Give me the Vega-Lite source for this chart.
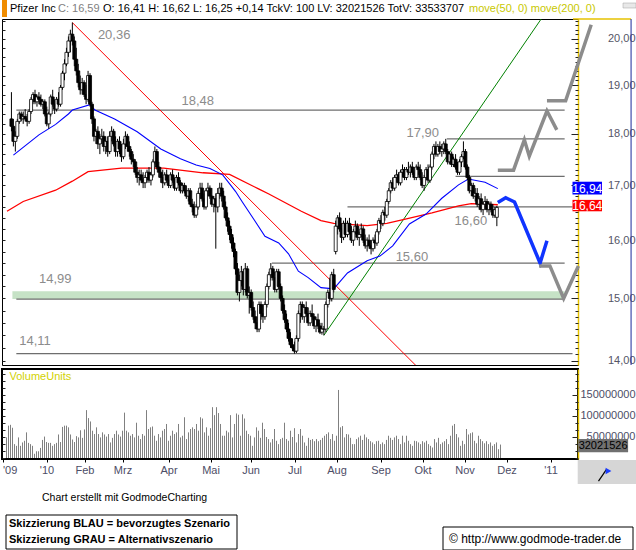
{
"$schema":"https://vega.github.io/schema/vega-lite/v6.json",
"padding":0,
"spacing":0,
"background":"white",
"config":{"font":"Liberation Sans","view":{"stroke":null}},
"datasets":{
"candles":[
{"i":-20,"o":18.3,"h":18.85,"l":18.05,"c":18.15,"v":49},
{"i":-19,"o":18.15,"h":18.3,"l":17.75,"c":17.85,"v":77},
{"i":-18,"o":17.85,"h":18.05,"l":17.65,"c":17.95,"v":79},
{"i":-17,"o":17.95,"h":18.3,"l":17.9,"c":18.25,"v":72},
{"i":-16,"o":18.25,"h":18.45,"l":18.2,"c":18.4,"v":33},
{"i":-15,"o":18.4,"h":18.45,"l":18.25,"c":18.3,"v":29},
{"i":-14,"o":18.3,"h":18.45,"l":18.2,"c":18.35,"v":49},
{"i":-13,"o":18.35,"h":18.5,"l":18.25,"c":18.3,"v":29},
{"i":-12,"o":18.3,"h":18.4,"l":18.15,"c":18.25,"v":37},
{"i":-11,"o":18.25,"h":18.5,"l":18.2,"c":18.45,"v":41},
{"i":-10,"o":18.45,"h":18.75,"l":18.4,"c":18.7,"v":61},
{"i":-9,"o":18.7,"h":18.85,"l":18.6,"c":18.8,"v":36},
{"i":-8,"o":18.8,"h":18.9,"l":18.6,"c":18.65,"v":33},
{"i":-7,"o":18.65,"h":18.8,"l":18.55,"c":18.75,"v":29},
{"i":-6,"o":18.75,"h":18.85,"l":18.6,"c":18.7,"v":10},
{"i":-5,"o":18.7,"h":18.8,"l":18.55,"c":18.6,"v":16},
{"i":-4,"o":18.6,"h":18.7,"l":18.5,"c":18.65,"v":16},
{"i":-3,"o":18.65,"h":18.7,"l":18.35,"c":18.4,"v":24},
{"i":-2,"o":18.4,"h":18.55,"l":18.15,"c":18.2,"v":43},
{"i":-1,"o":18.2,"h":18.45,"l":18.1,"c":18.4,"v":51},
{"i":0,"o":18.4,"h":18.8,"l":18.35,"c":18.75,"v":38},
{"i":1,"o":18.75,"h":18.9,"l":18.55,"c":18.6,"v":36},
{"i":2,"o":18.6,"h":18.7,"l":18.4,"c":18.5,"v":36},
{"i":3,"o":18.5,"h":18.75,"l":18.45,"c":18.7,"v":29},
{"i":4,"o":18.7,"h":18.85,"l":18.55,"c":18.6,"v":33},
{"i":5,"o":18.6,"h":19.0,"l":18.55,"c":18.95,"v":36},
{"i":6,"o":18.95,"h":19.3,"l":18.9,"c":19.25,"v":56},
{"i":7,"o":19.25,"h":19.55,"l":19.1,"c":19.45,"v":38},
{"i":8,"o":19.45,"h":19.8,"l":19.4,"c":19.7,"v":74},
{"i":9,"o":19.7,"h":20.05,"l":19.6,"c":19.95,"v":77},
{"i":10,"o":19.95,"h":20.2,"l":19.7,"c":20.1,"v":77},
{"i":11,"o":20.1,"h":20.36,"l":19.85,"c":19.95,"v":73},
{"i":12,"o":19.95,"h":20.05,"l":19.4,"c":19.55,"v":56},
{"i":13,"o":19.55,"h":19.8,"l":19.2,"c":19.3,"v":44},
{"i":14,"o":19.3,"h":19.45,"l":18.95,"c":19.05,"v":38},
{"i":15,"o":19.05,"h":19.2,"l":18.8,"c":18.9,"v":52},
{"i":16,"o":18.9,"h":19.15,"l":18.8,"c":19.05,"v":49},
{"i":17,"o":19.05,"h":19.1,"l":18.75,"c":18.8,"v":66},
{"i":18,"o":18.8,"h":19.0,"l":18.6,"c":18.7,"v":48},
{"i":19,"o":18.7,"h":19.3,"l":18.65,"c":19.2,"v":68},
{"i":20,"o":19.2,"h":19.25,"l":18.55,"c":18.6,"v":114},
{"i":21,"o":18.6,"h":18.65,"l":18.2,"c":18.3,"v":95},
{"i":22,"o":18.3,"h":18.35,"l":17.85,"c":17.95,"v":87},
{"i":23,"o":17.95,"h":18.1,"l":17.8,"c":18.05,"v":65},
{"i":24,"o":18.05,"h":18.15,"l":17.7,"c":17.8,"v":57},
{"i":25,"o":17.8,"h":18.0,"l":17.6,"c":17.9,"v":73},
{"i":26,"o":17.9,"h":18.1,"l":17.8,"c":17.95,"v":57},
{"i":27,"o":17.95,"h":18.05,"l":17.65,"c":17.75,"v":49},
{"i":28,"o":17.75,"h":17.95,"l":17.6,"c":17.85,"v":61},
{"i":29,"o":17.85,"h":17.95,"l":17.55,"c":17.65,"v":56},
{"i":30,"o":17.65,"h":18.05,"l":17.6,"c":17.95,"v":51},
{"i":31,"o":17.95,"h":18.15,"l":17.85,"c":18.05,"v":57},
{"i":32,"o":18.05,"h":18.1,"l":17.75,"c":17.8,"v":37},
{"i":33,"o":17.8,"h":17.95,"l":17.55,"c":17.65,"v":48},
{"i":34,"o":17.65,"h":17.9,"l":17.55,"c":17.85,"v":57},
{"i":35,"o":17.85,"h":17.95,"l":17.6,"c":17.7,"v":65},
{"i":36,"o":17.7,"h":17.8,"l":17.45,"c":17.55,"v":56},
{"i":37,"o":17.55,"h":17.9,"l":17.5,"c":17.8,"v":51},
{"i":38,"o":17.8,"h":18.05,"l":17.7,"c":17.95,"v":65},
{"i":39,"o":17.95,"h":18.0,"l":17.65,"c":17.75,"v":108},
{"i":40,"o":17.75,"h":17.85,"l":17.55,"c":17.65,"v":65},
{"i":41,"o":17.65,"h":17.7,"l":17.4,"c":17.5,"v":61},
{"i":42,"o":17.5,"h":17.6,"l":17.35,"c":17.45,"v":53},
{"i":43,"o":17.45,"h":17.5,"l":17.2,"c":17.25,"v":57},
{"i":44,"o":17.25,"h":17.35,"l":17.05,"c":17.15,"v":49},
{"i":45,"o":17.15,"h":17.3,"l":17.0,"c":17.2,"v":84},
{"i":46,"o":17.2,"h":17.3,"l":17.05,"c":17.1,"v":53},
{"i":47,"o":17.1,"h":17.25,"l":16.95,"c":17.05,"v":45},
{"i":48,"o":17.05,"h":17.2,"l":16.95,"c":17.15,"v":57},
{"i":49,"o":17.15,"h":17.3,"l":17.05,"c":17.25,"v":53},
{"i":50,"o":17.25,"h":17.35,"l":17.05,"c":17.1,"v":114},
{"i":51,"o":17.1,"h":17.25,"l":17.0,"c":17.2,"v":69},
{"i":52,"o":17.2,"h":17.5,"l":17.15,"c":17.45,"v":73},
{"i":53,"o":17.45,"h":17.75,"l":17.4,"c":17.65,"v":75},
{"i":54,"o":17.65,"h":17.7,"l":17.3,"c":17.35,"v":53},
{"i":55,"o":17.35,"h":17.45,"l":17.15,"c":17.25,"v":41},
{"i":56,"o":17.25,"h":17.35,"l":17.05,"c":17.15,"v":57},
{"i":57,"o":17.15,"h":17.3,"l":16.95,"c":17.05,"v":49},
{"i":58,"o":17.05,"h":17.25,"l":17.0,"c":17.2,"v":65},
{"i":59,"o":17.2,"h":17.3,"l":17.05,"c":17.1,"v":69},
{"i":60,"o":17.1,"h":17.2,"l":16.95,"c":17.0,"v":81},
{"i":61,"o":17.0,"h":17.25,"l":16.95,"c":17.2,"v":41},
{"i":62,"o":17.2,"h":17.3,"l":17.05,"c":17.1,"v":53},
{"i":63,"o":17.1,"h":17.15,"l":16.9,"c":16.95,"v":65},
{"i":64,"o":16.95,"h":17.2,"l":16.9,"c":17.15,"v":57},
{"i":65,"o":17.15,"h":17.25,"l":17.0,"c":17.05,"v":61},
{"i":66,"o":17.05,"h":17.1,"l":16.85,"c":16.9,"v":81},
{"i":67,"o":16.9,"h":17.05,"l":16.85,"c":17.0,"v":49},
{"i":68,"o":17.0,"h":17.05,"l":16.85,"c":16.9,"v":53},
{"i":69,"o":16.9,"h":17.0,"l":16.75,"c":16.8,"v":97},
{"i":70,"o":16.8,"h":16.95,"l":16.7,"c":16.9,"v":45},
{"i":71,"o":16.9,"h":16.95,"l":16.6,"c":16.65,"v":61},
{"i":72,"o":16.65,"h":16.75,"l":16.5,"c":16.6,"v":69},
{"i":73,"o":16.6,"h":16.7,"l":16.4,"c":16.45,"v":73},
{"i":74,"o":16.45,"h":16.65,"l":16.4,"c":16.6,"v":69},
{"i":75,"o":16.6,"h":16.9,"l":16.55,"c":16.85,"v":81},
{"i":76,"o":16.85,"h":17.05,"l":16.75,"c":16.95,"v":65},
{"i":77,"o":16.95,"h":17.05,"l":16.7,"c":16.75,"v":97},
{"i":78,"o":16.75,"h":16.85,"l":16.55,"c":16.6,"v":94},
{"i":79,"o":16.6,"h":16.95,"l":16.55,"c":16.9,"v":61},
{"i":80,"o":16.9,"h":17.05,"l":16.8,"c":16.95,"v":73},
{"i":81,"o":16.95,"h":17.0,"l":16.75,"c":16.8,"v":53},
{"i":82,"o":16.8,"h":16.95,"l":16.6,"c":16.65,"v":71},
{"i":83,"o":16.65,"h":16.8,"l":16.5,"c":16.75,"v":121},
{"i":84,"o":16.75,"h":16.85,"l":15.85,"c":16.6,"v":102},
{"i":85,"o":16.6,"h":16.95,"l":16.5,"c":16.85,"v":121},
{"i":86,"o":16.85,"h":17.05,"l":16.75,"c":16.95,"v":107},
{"i":87,"o":16.95,"h":17.05,"l":16.7,"c":16.8,"v":81},
{"i":88,"o":16.8,"h":16.9,"l":16.55,"c":16.6,"v":53},
{"i":89,"o":16.6,"h":16.7,"l":16.35,"c":16.4,"v":53},
{"i":90,"o":16.4,"h":16.5,"l":16.15,"c":16.25,"v":65},
{"i":91,"o":16.25,"h":16.35,"l":16.0,"c":16.1,"v":61},
{"i":92,"o":16.1,"h":16.2,"l":15.85,"c":15.95,"v":102},
{"i":93,"o":15.95,"h":16.05,"l":15.7,"c":15.8,"v":49},
{"i":94,"o":15.8,"h":15.85,"l":15.4,"c":15.5,"v":81},
{"i":95,"o":15.5,"h":15.6,"l":15.05,"c":15.1,"v":106},
{"i":96,"o":15.1,"h":15.4,"l":14.95,"c":15.3,"v":103},
{"i":97,"o":15.3,"h":15.55,"l":15.2,"c":15.45,"v":53},
{"i":98,"o":15.45,"h":15.5,"l":15.05,"c":15.15,"v":104},
{"i":99,"o":15.15,"h":15.6,"l":15.1,"c":15.5,"v":94},
{"i":100,"o":15.5,"h":15.55,"l":15.0,"c":15.05,"v":65},
{"i":101,"o":15.05,"h":15.2,"l":14.75,"c":15.1,"v":57},
{"i":102,"o":15.1,"h":15.15,"l":14.8,"c":14.85,"v":53},
{"i":103,"o":14.85,"h":14.95,"l":14.65,"c":14.7,"v":29},
{"i":104,"o":14.7,"h":14.8,"l":14.5,"c":14.6,"v":49},
{"i":105,"o":14.6,"h":14.7,"l":14.45,"c":14.5,"v":73},
{"i":106,"o":14.5,"h":14.95,"l":14.45,"c":14.9,"v":65},
{"i":107,"o":14.9,"h":14.95,"l":14.65,"c":14.75,"v":48},
{"i":108,"o":14.75,"h":14.9,"l":14.6,"c":14.7,"v":84},
{"i":109,"o":14.7,"h":14.95,"l":14.65,"c":14.9,"v":69},
{"i":110,"o":14.9,"h":15.25,"l":14.85,"c":15.2,"v":50},
{"i":111,"o":15.2,"h":15.45,"l":15.15,"c":15.4,"v":45},
{"i":112,"o":15.4,"h":15.6,"l":15.3,"c":15.5,"v":37},
{"i":113,"o":15.5,"h":15.55,"l":15.3,"c":15.35,"v":45},
{"i":114,"o":15.35,"h":15.45,"l":15.1,"c":15.15,"v":69},
{"i":115,"o":15.15,"h":15.5,"l":15.1,"c":15.45,"v":41},
{"i":116,"o":15.45,"h":15.5,"l":15.15,"c":15.2,"v":33},
{"i":117,"o":15.2,"h":15.25,"l":14.95,"c":15.0,"v":45},
{"i":118,"o":15.0,"h":15.05,"l":14.75,"c":14.8,"v":48},
{"i":119,"o":14.8,"h":14.9,"l":14.6,"c":14.65,"v":84},
{"i":120,"o":14.65,"h":14.75,"l":14.45,"c":14.5,"v":45},
{"i":121,"o":14.5,"h":14.6,"l":14.3,"c":14.35,"v":41},
{"i":122,"o":14.35,"h":14.45,"l":14.2,"c":14.25,"v":65},
{"i":123,"o":14.25,"h":14.35,"l":14.15,"c":14.2,"v":50},
{"i":124,"o":14.2,"h":14.3,"l":14.11,"c":14.15,"v":71},
{"i":125,"o":14.15,"h":14.4,"l":14.12,"c":14.35,"v":37},
{"i":126,"o":14.35,"h":14.8,"l":14.3,"c":14.75,"v":57},
{"i":127,"o":14.75,"h":14.95,"l":14.6,"c":14.9,"v":69},
{"i":128,"o":14.9,"h":14.95,"l":14.65,"c":14.7,"v":53},
{"i":129,"o":14.7,"h":14.9,"l":14.6,"c":14.85,"v":37},
{"i":130,"o":14.85,"h":14.95,"l":14.7,"c":14.75,"v":29},
{"i":131,"o":14.75,"h":14.85,"l":14.55,"c":14.6,"v":48},
{"i":132,"o":14.6,"h":14.8,"l":14.55,"c":14.75,"v":43},
{"i":133,"o":14.75,"h":14.9,"l":14.65,"c":14.7,"v":45},
{"i":134,"o":14.7,"h":14.75,"l":14.5,"c":14.55,"v":40},
{"i":135,"o":14.55,"h":14.7,"l":14.45,"c":14.65,"v":45},
{"i":136,"o":14.65,"h":14.75,"l":14.5,"c":14.55,"v":40},
{"i":137,"o":14.55,"h":14.6,"l":14.42,"c":14.45,"v":43},
{"i":138,"o":14.45,"h":14.6,"l":14.41,"c":14.5,"v":48},
{"i":139,"o":14.5,"h":14.55,"l":14.4,"c":14.5,"v":53},
{"i":140,"o":14.5,"h":14.95,"l":14.45,"c":14.9,"v":57},
{"i":141,"o":14.9,"h":15.15,"l":14.85,"c":15.1,"v":61},
{"i":142,"o":15.1,"h":15.35,"l":14.95,"c":15.0,"v":45},
{"i":143,"o":15.0,"h":15.45,"l":14.95,"c":15.4,"v":57},
{"i":144,"o":15.4,"h":15.5,"l":15.1,"c":15.15,"v":41},
{"i":145,"o":15.8,"h":16.35,"l":15.75,"c":16.25,"v":53},
{"i":146,"o":16.25,"h":16.45,"l":16.1,"c":16.4,"v":162},
{"i":147,"o":16.4,"h":16.5,"l":16.15,"c":16.2,"v":73},
{"i":148,"o":16.2,"h":16.3,"l":15.95,"c":16.05,"v":76},
{"i":149,"o":16.05,"h":16.35,"l":16.0,"c":16.3,"v":49},
{"i":150,"o":16.3,"h":16.4,"l":16.05,"c":16.1,"v":57},
{"i":151,"o":16.1,"h":16.35,"l":16.05,"c":16.3,"v":56},
{"i":152,"o":16.3,"h":16.4,"l":16.1,"c":16.15,"v":48},
{"i":153,"o":16.15,"h":16.25,"l":15.95,"c":16.0,"v":33},
{"i":154,"o":16.0,"h":16.2,"l":15.9,"c":16.15,"v":33},
{"i":155,"o":16.15,"h":16.35,"l":16.1,"c":16.25,"v":45},
{"i":156,"o":16.25,"h":16.3,"l":16.0,"c":16.05,"v":49},
{"i":157,"o":16.05,"h":16.15,"l":15.9,"c":16.1,"v":53},
{"i":158,"o":16.1,"h":16.3,"l":16.05,"c":16.2,"v":43},
{"i":159,"o":16.2,"h":16.25,"l":15.95,"c":16.0,"v":56},
{"i":160,"o":16.0,"h":16.1,"l":15.85,"c":15.9,"v":49},
{"i":161,"o":15.9,"h":16.05,"l":15.8,"c":16.0,"v":45},
{"i":162,"o":16.0,"h":16.1,"l":15.85,"c":15.9,"v":40},
{"i":163,"o":15.9,"h":16.0,"l":15.75,"c":15.85,"v":37},
{"i":164,"o":15.85,"h":16.05,"l":15.8,"c":16.0,"v":33},
{"i":165,"o":16.0,"h":16.1,"l":15.85,"c":15.95,"v":40},
{"i":166,"o":15.95,"h":16.2,"l":15.9,"c":16.15,"v":41},
{"i":167,"o":16.15,"h":16.4,"l":16.1,"c":16.35,"v":33},
{"i":168,"o":16.35,"h":16.45,"l":16.2,"c":16.3,"v":37},
{"i":169,"o":16.3,"h":16.55,"l":16.25,"c":16.5,"v":33},
{"i":170,"o":16.5,"h":16.6,"l":16.35,"c":16.45,"v":43},
{"i":171,"o":16.45,"h":16.75,"l":16.4,"c":16.7,"v":53},
{"i":172,"o":16.7,"h":16.95,"l":16.65,"c":16.9,"v":48},
{"i":173,"o":16.9,"h":17.1,"l":16.85,"c":17.05,"v":43},
{"i":174,"o":17.05,"h":17.15,"l":16.9,"c":16.95,"v":49},
{"i":175,"o":16.95,"h":17.2,"l":16.9,"c":17.15,"v":53},
{"i":176,"o":17.15,"h":17.3,"l":17.05,"c":17.2,"v":45},
{"i":177,"o":17.2,"h":17.25,"l":17.0,"c":17.05,"v":33},
{"i":178,"o":17.05,"h":17.3,"l":17.0,"c":17.25,"v":53},
{"i":179,"o":17.25,"h":17.4,"l":17.15,"c":17.3,"v":37},
{"i":180,"o":17.3,"h":17.35,"l":17.1,"c":17.15,"v":53},
{"i":181,"o":17.15,"h":17.35,"l":17.1,"c":17.3,"v":41},
{"i":182,"o":17.3,"h":17.45,"l":17.2,"c":17.25,"v":33},
{"i":183,"o":17.25,"h":17.4,"l":17.15,"c":17.35,"v":29},
{"i":184,"o":17.35,"h":17.45,"l":17.2,"c":17.25,"v":41},
{"i":185,"o":17.25,"h":17.35,"l":17.1,"c":17.15,"v":40},
{"i":186,"o":17.15,"h":17.4,"l":17.1,"c":17.35,"v":37},
{"i":187,"o":17.35,"h":17.45,"l":17.2,"c":17.3,"v":33},
{"i":188,"o":17.3,"h":17.4,"l":17.1,"c":17.15,"v":40},
{"i":189,"o":17.15,"h":17.25,"l":16.95,"c":17.0,"v":37},
{"i":190,"o":17.0,"h":17.2,"l":16.9,"c":17.15,"v":41},
{"i":191,"o":17.15,"h":17.35,"l":17.1,"c":17.3,"v":33},
{"i":192,"o":17.3,"h":17.4,"l":17.05,"c":17.1,"v":29},
{"i":193,"o":17.1,"h":17.4,"l":17.05,"c":17.35,"v":25},
{"i":194,"o":17.35,"h":17.65,"l":17.3,"c":17.6,"v":45},
{"i":195,"o":17.6,"h":17.8,"l":17.5,"c":17.75,"v":37},
{"i":196,"o":17.75,"h":17.85,"l":17.55,"c":17.6,"v":48},
{"i":197,"o":17.6,"h":17.8,"l":17.55,"c":17.75,"v":33},
{"i":198,"o":17.75,"h":17.85,"l":17.6,"c":17.65,"v":37},
{"i":199,"o":17.65,"h":17.8,"l":17.55,"c":17.7,"v":40},
{"i":200,"o":17.7,"h":17.85,"l":17.6,"c":17.8,"v":45},
{"i":201,"o":17.8,"h":17.9,"l":17.6,"c":17.65,"v":33},
{"i":202,"o":17.65,"h":17.7,"l":17.4,"c":17.45,"v":53},
{"i":203,"o":17.45,"h":17.65,"l":17.4,"c":17.6,"v":77},
{"i":204,"o":17.6,"h":17.65,"l":17.35,"c":17.4,"v":81},
{"i":205,"o":17.4,"h":17.55,"l":17.35,"c":17.5,"v":57},
{"i":206,"o":17.5,"h":17.6,"l":17.3,"c":17.35,"v":49},
{"i":207,"o":17.35,"h":17.45,"l":17.2,"c":17.25,"v":29},
{"i":208,"o":17.25,"h":17.5,"l":17.2,"c":17.45,"v":41},
{"i":209,"o":17.45,"h":17.6,"l":17.35,"c":17.55,"v":33},
{"i":210,"o":17.55,"h":17.85,"l":17.5,"c":17.65,"v":69},
{"i":211,"o":17.65,"h":17.7,"l":17.3,"c":17.35,"v":56},
{"i":212,"o":17.35,"h":17.4,"l":17.1,"c":17.15,"v":59},
{"i":213,"o":17.15,"h":17.2,"l":16.85,"c":16.9,"v":61},
{"i":214,"o":16.9,"h":17.05,"l":16.8,"c":17.0,"v":41},
{"i":215,"o":17.0,"h":17.05,"l":16.75,"c":16.8,"v":35},
{"i":216,"o":16.8,"h":16.95,"l":16.7,"c":16.85,"v":53},
{"i":217,"o":16.85,"h":16.95,"l":16.6,"c":16.65,"v":45},
{"i":218,"o":16.65,"h":16.8,"l":16.55,"c":16.75,"v":40},
{"i":219,"o":16.75,"h":16.85,"l":16.5,"c":16.55,"v":35},
{"i":220,"o":16.55,"h":16.7,"l":16.45,"c":16.65,"v":40},
{"i":221,"o":16.65,"h":16.8,"l":16.55,"c":16.7,"v":33},
{"i":222,"o":16.7,"h":16.75,"l":16.5,"c":16.55,"v":37},
{"i":223,"o":16.55,"h":16.7,"l":16.45,"c":16.65,"v":29},
{"i":224,"o":16.65,"h":16.7,"l":16.5,"c":16.55,"v":33},
{"i":225,"o":16.55,"h":16.65,"l":16.4,"c":16.45,"v":37},
{"i":226,"o":16.45,"h":16.6,"l":16.4,"c":16.55,"v":21},
{"i":227,"o":16.41,"h":16.62,"l":16.25,"c":16.59,"v":32}
],
"ma":[
{"k":"50","i":-19,"m":17.58},{"k":"50","i":-6,"m":17.98},{"k":"50","i":2.5,"m":18.19},{"k":"50","i":9,"m":18.4},{"k":"50","i":11,"m":18.48},{"k":"50","i":20,"m":18.59},{"k":"50","i":22.5,"m":18.48},{"k":"50","i":32.5,"m":18.3},{"k":"50","i":44,"m":18.04},{"k":"50","i":56,"m":17.7},{"k":"50","i":66,"m":17.51},{"k":"50","i":74,"m":17.39},{"k":"50","i":81,"m":17.32},{"k":"50","i":87.5,"m":17.2},{"k":"50","i":94,"m":16.89},{"k":"50","i":97.5,"m":16.69},{"k":"50","i":104,"m":16.34},{"k":"50","i":109,"m":16.07},{"k":"50","i":116,"m":15.95},{"k":"50","i":121,"m":15.76},{"k":"50","i":126,"m":15.46},{"k":"50","i":131,"m":15.35},{"k":"50","i":137.5,"m":15.18},{"k":"50","i":144,"m":15.16},{"k":"50","i":151,"m":15.43},{"k":"50","i":161,"m":15.64},{"k":"50","i":167.5,"m":15.72},{"k":"50","i":174,"m":15.9},{"k":"50","i":182.5,"m":16.29},{"k":"50","i":191,"m":16.47},{"k":"50","i":199,"m":16.76},{"k":"50","i":207.5,"m":17.01},{"k":"50","i":212.5,"m":17.12},{"k":"50","i":221,"m":17.06},{"k":"50","i":227.5,"m":16.94},
{"k":"200","i":-22.25,"m":16.52},{"k":"200","i":-14,"m":16.7},{"k":"200","i":2.5,"m":16.91},{"k":"200","i":11,"m":17.08},{"k":"200","i":19,"m":17.26},{"k":"200","i":36,"m":17.33},{"k":"200","i":57.5,"m":17.33},{"k":"200","i":77.5,"m":17.24},{"k":"200","i":91,"m":17.21},{"k":"200","i":106,"m":16.93},{"k":"200","i":111,"m":16.84},{"k":"200","i":127.5,"m":16.52},{"k":"200","i":137.5,"m":16.35},{"k":"200","i":144,"m":16.3},{"k":"200","i":161,"m":16.26},{"k":"200","i":171,"m":16.3},{"k":"200","i":181,"m":16.38},{"k":"200","i":194,"m":16.49},{"k":"200","i":207.5,"m":16.62},{"k":"200","i":214,"m":16.66},{"k":"200","i":227.5,"m":16.64}
]
},
"vconcat":[
{
"width":636,"height":17,
"data":{"values":[{}]},
"encoding":{
"x":{"datum":0,"type":"quantitative","scale":{"domain":[0,636],"nice":false,"zero":false},"axis":null},
"y":{"datum":9,"type":"quantitative","scale":{"domain":[0,17],"nice":false,"zero":false,"reverse":true},"axis":null}
},
"layer":[
{"mark":{"type":"rect","color":"#f08c00"},"encoding":{"x":{"datum":0,"type":"quantitative"},"x2":{"datum":5},"y":{"datum":0,"type":"quantitative"},"y2":{"datum":17}}},
{"mark":{"type":"rect","fill":"#e8e8e8","stroke":"#a0a0a0","strokeWidth":0.5},"encoding":{"x":{"datum":621,"type":"quantitative"},"x2":{"datum":634},"y":{"datum":3,"type":"quantitative"},"y2":{"datum":8}}},
{"mark":{"type":"text","text":"Pfizer Inc","align":"left","baseline":"middle","fontSize":11,"color":"#000"},"encoding":{"x":{"datum":8,"type":"quantitative"}}},
{"mark":{"type":"text","text":"C: 16,59","align":"left","baseline":"middle","fontSize":11,"color":"#808080"},"encoding":{"x":{"datum":56,"type":"quantitative"}}},
{"mark":{"type":"text","text":"O: 16,41 H: 16,62 L: 16,25 +0,14 TckV: 100 LV: 32021526 TotV: 33533707","align":"left","baseline":"middle","fontSize":11,"color":"#000"},"encoding":{"x":{"datum":101,"type":"quantitative"}}},
{"mark":{"type":"text","text":"move(50, 0) move(200, 0)","align":"left","baseline":"middle","fontSize":11,"color":"#c8c800"},"encoding":{"x":{"datum":467,"type":"quantitative"}}}
]
},
{
"width":576,"height":346,
"view":{"stroke":"#000","strokeWidth":1},
"resolve":{"axis":{"y":"independent"}},
"layer":[
{"data":{"values":[{"lo":14.99,"hi":15.12,"a":-19.5,"b":261.5}]},
"mark":{"type":"rect","color":"#c6e2c6"},
"encoding":{
"x":{"field":"a","type":"quantitative","scale":{"domain":[-22.25,265.75],"nice":false,"zero":false},"axis":null},
"x2":{"field":"b"},
"y":{"field":"lo","type":"quantitative","scale":{"type":"log","domain":[13.934,20.441],"nice":false},
"axis":{"orient":"right","values":[14,15,16,17,18,19,20],"labelExpr":"replace(format(datum.value,'.2f'),'.',',')","title":null,"grid":false,"domainColor":"#e6c200","domainWidth":1.5,"tickColor":"#222","tickSize":-7,"labelPadding":64,"labelAlign":"right","labelFontSize":11,"labelColor":"#555566"}},
"y2":{"field":"hi"}}},
{"data":{"values":[{"p":18.48,"a":-17.5,"b":261.5},{"p":17.9,"a":201.5,"b":261.5},{"p":17.17,"a":206,"b":261.5},{"p":16.6,"a":151,"b":265.5},{"p":15.6,"a":112.5,"b":261.5},{"p":14.99,"a":-17.5,"b":261.5},{"p":14.11,"a":-17.5,"b":265.5}]},
"mark":{"type":"rule","color":"#6e6e6e","strokeWidth":1.2},
"encoding":{"x":{"field":"a","type":"quantitative","axis":null},"x2":{"field":"b"},"y":{"field":"p","type":"quantitative",
"axis":{"orient":"right","values":[14,14.1,14.2,14.3,14.4,14.5,14.6,14.7,14.8,14.9,15,15.1,15.2,15.3,15.4,15.5,15.6,15.7,15.8,15.9,16,16.1,16.2,16.3,16.4,16.5,16.6,16.7,16.8,16.9,17,17.1,17.2,17.3,17.4,17.5,17.6,17.7,17.8,17.9,18,18.1,18.2,18.3,18.4,18.5,18.6,18.7,18.8,18.9,19,19.1,19.2,19.3,19.4,19.5,19.6,19.7,19.8,19.9,20,20.1,20.2,20.3,20.4],"labels":false,"domain":false,"title":null,"grid":false,"tickColor":"#222","tickSize":-3}}}},
{"data":{"values":[{"i":11,"p":20.36},{"i":190,"p":13.8}]},
"mark":{"type":"line","strokeWidth":1,"clip":true,"color":"#ff0000"},
"encoding":{"x":{"field":"i","type":"quantitative","axis":null},"y":{"field":"p","type":"quantitative",
"axis":{"orient":"left","values":[14,14.2,14.4,14.6,14.8,15,15.2,15.4,15.6,15.8,16,16.2,16.4,16.6,16.8,17,17.2,17.4,17.6,17.8,18,18.2,18.4,18.6,18.8,19,19.2,19.4,19.6,19.8,20,20.2,20.4],"labels":false,"domain":false,"title":null,"grid":false,"tickColor":"#222","tickSize":-3}}}},
{"data":{"values":[{"i":139,"p":14.4},{"i":250,"p":20.47}]},
"mark":{"type":"line","strokeWidth":1,"clip":true,"color":"#008000"},
"encoding":{"x":{"field":"i","type":"quantitative","axis":null},"y":{"field":"p","type":"quantitative","axis":null}}},
{"data":{"name":"ma"},"transform":[{"filter":"datum.k == '200'"}],
"mark":{"type":"line","strokeWidth":1.3,"clip":true,"color":"#ff0000"},
"encoding":{"x":{"field":"i","type":"quantitative","axis":null},"y":{"field":"m","type":"quantitative","axis":null}}},
{"data":{"name":"ma"},"transform":[{"filter":"datum.k == '50'"}],
"mark":{"type":"line","strokeWidth":1.1,"clip":true,"color":"#0000ff"},
"encoding":{"x":{"field":"i","type":"quantitative","axis":null},"y":{"field":"m","type":"quantitative","axis":null}}},
{"data":{"name":"candles"},
"mark":{"type":"rule","color":"#000","strokeWidth":1},
"encoding":{"x":{"field":"i","type":"quantitative","axis":null},"y":{"field":"l","type":"quantitative","axis":null},"y2":{"field":"h"}}},
{"data":{"name":"candles"},
"mark":{"type":"bar","size":3,"stroke":"#000","strokeWidth":0.8},
"encoding":{"x":{"field":"i","type":"quantitative","axis":null},"y":{"field":"o","type":"quantitative","axis":null},"y2":{"field":"c"},
"fill":{"condition":{"test":"datum.c >= datum.o","value":"#ffffff"},"value":"#000000"}}},
{"data":{"values":[{"i":227.5,"p":16.68},{"i":231.5,"p":16.77},{"i":236,"p":16.69},{"i":249,"p":15.6},{"i":252.5,"p":15.99}]},
"mark":{"type":"line","strokeWidth":3.5,"clip":false,"color":"#1034ff"},
"encoding":{"x":{"field":"i","type":"quantitative","axis":null},"y":{"field":"p","type":"quantitative","axis":null}}},
{"data":{"values":[
{"g":"A","i":248.5,"p":15.55},{"g":"A","i":254,"p":15.55},{"g":"A","i":261,"p":15.0},{"g":"A","i":268.5,"p":15.55},
{"g":"B","i":227.5,"p":17.29},{"g":"B","i":235.5,"p":17.29},{"g":"B","i":241,"p":17.88},{"g":"B","i":243.5,"p":17.56},{"g":"B","i":252.5,"p":18.46},{"g":"B","i":257.5,"p":18.08},
{"g":"C","i":252.5,"p":18.67},{"g":"C","i":262,"p":18.67},{"g":"C","i":275,"p":20.31}]},
"mark":{"type":"line","strokeWidth":3.5,"clip":false,"color":"#8c8c8c"},
"encoding":{"x":{"field":"i","type":"quantitative","axis":null},"y":{"field":"p","type":"quantitative","axis":null},"detail":{"field":"g"}}},
{"data":{"values":[{"t":"20,36","i":24,"p":20.08},{"t":"18,48","i":66.5,"p":18.66},{"t":"17,90","i":181,"p":18.02},{"t":"16,60","i":205.5,"p":16.34},{"t":"15,60","i":175.5,"p":15.71},{"t":"14,99","i":-6,"p":15.32},{"t":"14,11","i":-16,"p":14.31}]},
"mark":{"type":"text","align":"left","baseline":"middle","fontSize":13,"color":"#8c8c8c"},
"encoding":{"x":{"field":"i","type":"quantitative","axis":null},"y":{"field":"p","type":"quantitative","axis":null},"text":{"field":"t"}}},
{"data":{"values":[{"a":265.75,"b":295.3,"p":20.441}]},
"mark":{"type":"rule","clip":false,"color":"#e6c200","strokeWidth":1.5},
"encoding":{"x":{"field":"a","type":"quantitative","axis":null},"x2":{"field":"b"},"y":{"field":"p","type":"quantitative","axis":null}}},
{"data":{"values":[{"a":295.3,"lo":13.934,"hi":20.441}]},
"mark":{"type":"rule","clip":false,"color":"#1a2a9a","strokeWidth":1},
"encoding":{"x":{"field":"a","type":"quantitative","axis":null},"y":{"field":"lo","type":"quantitative","axis":null},"y2":{"field":"hi"}}},
{"data":{"values":[{"a":265.5,"b":280.5,"lo":16.83,"hi":17.07}]},
"mark":{"type":"rect","clip":false,"color":"#0000ff"},
"encoding":{"x":{"field":"a","type":"quantitative","axis":null},"x2":{"field":"b"},"y":{"field":"lo","type":"quantitative","axis":null},"y2":{"field":"hi"}}},
{"data":{"values":[{"a":265.5,"b":280.5,"lo":16.52,"hi":16.73}]},
"mark":{"type":"rect","clip":false,"color":"#ff0000"},
"encoding":{"x":{"field":"a","type":"quantitative","axis":null},"x2":{"field":"b"},"y":{"field":"lo","type":"quantitative","axis":null},"y2":{"field":"hi"}}},
{"data":{"values":[{"t":"16,94","m":273,"p":16.94},{"t":"16,64","m":273,"p":16.62}]},
"mark":{"type":"text","align":"center","baseline":"middle","fontSize":12,"color":"#ffffff","clip":false},
"encoding":{"x":{"field":"m","type":"quantitative","axis":null},"y":{"field":"p","type":"quantitative","axis":null},"text":{"field":"t"}}}
]
},
{
"width":576,"height":90,
"view":{"stroke":"#000","strokeWidth":2},
"resolve":{"axis":{"y":"independent"}},
"layer":[
{"data":{"name":"candles"},
"mark":{"type":"rule","color":"#808080","strokeWidth":1},
"encoding":{
"x":{"field":"i","type":"quantitative","scale":{"domain":[-22.25,265.75],"nice":false,"zero":false},
"axis":{"orient":"bottom","values":[-22,0,19,38,61,82,102,124,145,167,188,209,230,252],"labelExpr":"[\"'09\",\"'10\",\"Feb\",\"Mrz\",\"Apr\",\"Mai\",\"Jun\",\"Jul\",\"Aug\",\"Sep\",\"Okt\",\"Nov\",\"Dez\",\"'11\"][indexof([-22,0,19,38,61,82,102,124,145,167,188,209,230,252],datum.value)]","labelFlush":5,"title":null,"grid":false,"domain":false,"tickSize":3,"tickColor":"#000","labelPadding":2,"labelFontSize":11,"labelColor":"#4d4d66"}},
"y":{"field":"v","type":"quantitative","scale":{"domain":[-2.4,211.9],"nice":false,"zero":false},
"axis":{"orient":"right","values":[50,100,150],"labelExpr":"format(datum.value*1000000,'d')","title":null,"grid":false,"domainColor":"#e6c200","domainWidth":1.5,"tickColor":"#222","tickSize":-6,"labelPadding":63,"labelAlign":"right","labelFontSize":11,"labelColor":"#4d4d66"}},
"y2":{"datum":0}}},
{"data":{"values":[{"a":265.6,"b":295.5,"p":-33.4}]},
"mark":{"type":"rule","color":"#d6d6d6","strokeWidth":24,"strokeCap":"butt","clip":false},
"encoding":{"x":{"field":"a","type":"quantitative"},"x2":{"field":"b"},"y":{"field":"p","type":"quantitative","axis":null}}},
{"data":{"values":[{"a":295.3,"lo":-4.8,"hi":211.9}]},
"mark":{"type":"rule","clip":false,"color":"#1a2a9a","strokeWidth":1},
"encoding":{"x":{"field":"a","type":"quantitative"},"y":{"field":"lo","type":"quantitative","axis":null},"y2":{"field":"hi"}}},
{"data":{"values":[{"a":276,"b":280,"lo":-55,"hi":-27}]},
"mark":{"type":"rule","color":"#000","strokeWidth":1.2,"clip":false},
"encoding":{"x":{"field":"a","type":"quantitative"},"x2":{"field":"b"},"y":{"field":"lo","type":"quantitative","axis":null},"y2":{"field":"hi"}}},
{"data":{"values":[{"a":281,"p":-31}]},
"mark":{"type":"point","shape":"triangle-right","filled":true,"size":45,"color":"#1a3cff","opacity":1,"clip":false},
"encoding":{"x":{"field":"a","type":"quantitative"},"y":{"field":"p","type":"quantitative","axis":null}}},
{"data":{"values":[{"a":265.8,"b":290.8,"lo":13.6,"hi":45.2}]},
"mark":{"type":"rect","color":"#707070","clip":false},
"encoding":{"x":{"field":"a","type":"quantitative"},"x2":{"field":"b"},"y":{"field":"lo","type":"quantitative",
"axis":{"orient":"left","values":[0,16.67,33.33,50,66.67,83.33,100,116.67,133.33,150,166.67,183.33,200],"labels":false,"domain":false,"title":null,"grid":false,"tickColor":"#222","tickSize":-3}},"y2":{"field":"hi"}}},
{"data":{"values":[{"t":"32021526","m":278.3,"p":29.4}]},
"mark":{"type":"text","align":"center","baseline":"middle","fontSize":11,"color":"#000","clip":false},
"encoding":{"x":{"field":"m","type":"quantitative"},"y":{"field":"p","type":"quantitative","axis":null},"text":{"field":"t"}}},
{"data":{"values":[{"t":"VolumeUnits","i":-18.5,"p":191.7}]},
"mark":{"type":"text","align":"left","baseline":"middle","fontSize":11,"color":"#d2d200"},
"encoding":{"x":{"field":"i","type":"quantitative"},"y":{"field":"p","type":"quantitative",
"axis":{"orient":"right","values":[0,16.67,33.33,66.67,83.33,116.67,133.33,166.67,183.33,200],"labels":false,"domain":false,"title":null,"grid":false,"tickColor":"#222","tickSize":-3}},"text":{"field":"t"}}}
]
},
{
"width":636,"height":70,
"data":{"values":[{}]},
"encoding":{
"x":{"datum":0,"type":"quantitative","scale":{"domain":[0,636],"nice":false,"zero":false},"axis":null},
"y":{"datum":0,"type":"quantitative","scale":{"domain":[0,70],"nice":false,"zero":false,"reverse":true},"axis":null}
},
"layer":[
{"mark":{"type":"text","text":"Chart erstellt mit GodmodeCharting","align":"left","baseline":"middle","fontSize":10.5,"color":"#000"},"encoding":{"x":{"datum":40,"type":"quantitative"},"y":{"datum":12,"type":"quantitative"}}},
{"mark":{"type":"rect","fill":"#fff","stroke":"#000","strokeWidth":1},"encoding":{"x":{"datum":4,"type":"quantitative"},"x2":{"datum":235},"y":{"datum":29,"type":"quantitative"},"y2":{"datum":63}}},
{"mark":{"type":"text","text":"Skizzierung BLAU = bevorzugtes Szenario","align":"left","baseline":"middle","fontSize":11,"fontWeight":"bold","color":"#000"},"encoding":{"x":{"datum":7,"type":"quantitative"},"y":{"datum":38,"type":"quantitative"}}},
{"mark":{"type":"text","text":"Skizzierung GRAU = Alternativszenario","align":"left","baseline":"middle","fontSize":11,"fontWeight":"bold","color":"#000"},"encoding":{"x":{"datum":7,"type":"quantitative"},"y":{"datum":54,"type":"quantitative"}}},
{"mark":{"type":"rect","fill":"#fff","stroke":"#000","strokeWidth":1},"encoding":{"x":{"datum":441,"type":"quantitative"},"x2":{"datum":631},"y":{"datum":41,"type":"quantitative"},"y2":{"datum":64}}},
{"mark":{"type":"text","text":"© http://www.godmode-trader.de","align":"left","baseline":"middle","fontSize":12,"color":"#000"},"encoding":{"x":{"datum":447,"type":"quantitative"},"y":{"datum":53,"type":"quantitative"}}}
]
}
]
}
